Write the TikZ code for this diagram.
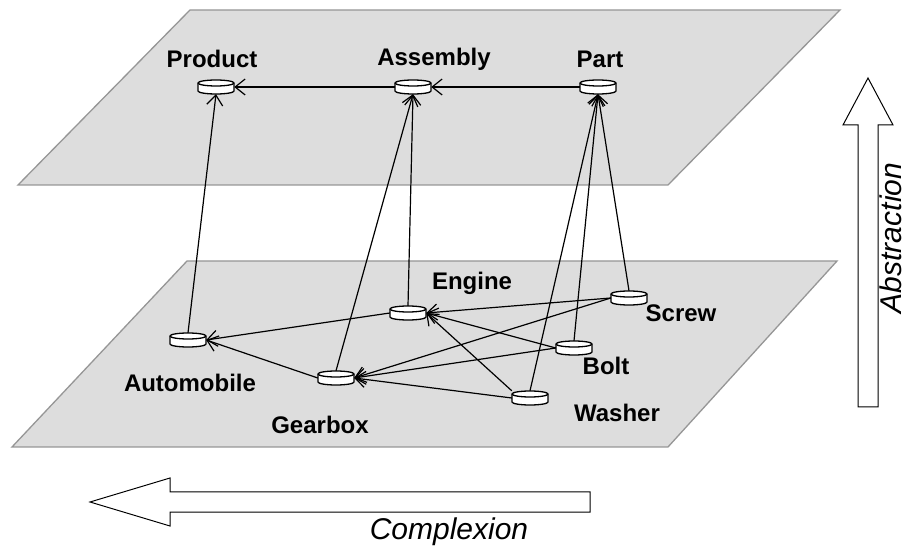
\documentclass[tikz,border=0pt]{standalone}
\usepackage{fontspec}
\setmainfont{Liberation Sans}
\usetikzlibrary{arrows.meta}
\definecolor{planefill}{RGB}{221,221,221}
\definecolor{planeedge}{RGB}{150,150,150}
\tikzset{
  plane/.style={fill=planefill, draw=planeedge, line width=1.3pt, line join=miter},
  drum/.style={rectangle, inner sep=0pt, minimum width=36pt, minimum height=14pt},
  lbl/.style={font=\bfseries\fontsize{24}{28}\selectfont, inner sep=0pt},
  link/.style={line width=1.2pt, -{Straight Barb[length=10pt,width=16pt,line width=1.2pt]}},
  hollow/.style={fill=white, draw=black, line width=1pt, line join=miter},
  axislbl/.style={font=\itshape\fontsize{30}{34}\selectfont, inner sep=0pt}
}
\begin{document}
\begin{tikzpicture}[x=1pt,y=1pt]
\useasboundingbox (0,0) rectangle (907,546);

% the two abstraction levels
\draw[plane] (190,536) -- (840,536) -- (668,361) -- (18,361) -- cycle;
\draw[plane] (187,285) -- (837,285) -- (668,99) -- (12,99) -- cycle;

% upper level
\node[drum] (product)  at (216,459) {};
\node[drum] (assembly) at (413,459) {};
\node[drum] (part)     at (598,459) {};
% lower level
\node[drum] (engine)     at (408,233) {};
\node[drum] (screw)      at (629,248) {};
\node[drum] (automobile) at (188,206) {};
\node[drum] (bolt)       at (574,198) {};
\node[drum] (gearbox)    at (336,168) {};
\node[drum] (washer)     at (530,148) {};

% labels
\node[lbl] (lproduct)    at (212,487) {Product};
\node[lbl] (lassembly)   at (434,487) {Assembly};
\node[lbl] (lpart)       at (600,487) {Part};
\node[lbl] (lengine)     at (472,263) {Engine};
\node[lbl] (lscrew)      at (681,233) {Screw};
\node[lbl] (lautomobile) at (190,163) {Automobile};
\node[lbl] (lbolt)       at (606,180) {Bolt};
\node[lbl] (lgearbox)    at (320,121) {Gearbox};
\node[lbl] (lwasher)     at (617,133) {Washer};

% links
\draw[link] (assembly.west) -- (product.east);
\draw[link] (part.west) -- (assembly.east);
\draw[link] (automobile.north) -- (product.south);
\draw[link] (engine.north) -- (assembly.south);
\draw[link] (gearbox.north) -- (assembly.south);
\draw[link] (screw.north) -- (part.south);
\draw[link] (bolt.north) -- (part.south);
\draw[link] (washer.north) -- (part.south);
\draw[link] (engine.west) -- (automobile.east);
\draw[link] (gearbox.west) -- (automobile.east);
\draw[link] (screw.west) -- (engine.east);
\draw[link] (bolt.west) -- (engine.east);
\draw[link] (washer.north west) -- (engine.east);
\draw[link] (screw.west) -- (gearbox.east);
\draw[link] (bolt.west) -- (gearbox.east);
\draw[link] (washer.west) -- (gearbox.east);

% drums
\foreach \n in {product,assembly,part,engine,screw,automobile,bolt,gearbox,washer}{
  \filldraw[fill=white, draw=black, line width=1.3pt, shift={(\n.center)}]
    (-18,4) -- (-18,-4) arc[start angle=180, end angle=360, x radius=18, y radius=3]
    -- (18,4) arc[start angle=0, end angle=180, x radius=18, y radius=3] -- cycle;
  \draw[black, line width=1.3pt, shift={(\n.center)}]
    (-18,4) arc[start angle=180, end angle=360, x radius=18, y radius=3];
}

% axis arrows
\draw[hollow] (858,139) -- (878,139) -- (878,421) -- (893,421) -- (868,468)
  -- (843,421) -- (858,421) -- cycle;
\node[axislbl, rotate=90] (abstraction) at (891,308) {Abstraction};

\draw[hollow] (590,54) -- (590,34) -- (170,34) -- (170,20) -- (90,44)
  -- (170,68) -- (170,54) -- cycle;
\node[axislbl] (complexion) at (449,14) {Complexion};
\end{tikzpicture}
\end{document}
